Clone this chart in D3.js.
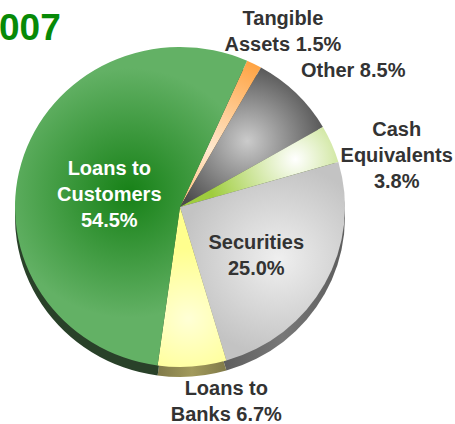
<!DOCTYPE html>
<html>
<head>
<meta charset="utf-8">
<script src="https://cdn.jsdelivr.net/npm/d3@7"></script>
<style>
  html, body { margin: 0; padding: 0; background: #ffffff; }
  svg { display: block; }
  text { font-family: "Liberation Sans", Arial, sans-serif; font-weight: bold; }
</style>
</head>
<body>
<svg id="chart" width="455" height="424"></svg>
<script>
// Asset mix, share of total (%), in drawing order clockwise
const categories = ["Tangible Assets", "Other", "Cash Equivalents", "Securities", "Loans to Banks", "Loans to Customers"];
const shares = [1.5, 8.5, 3.8, 25.0, 6.7, 54.5];
// How each category name is broken into lines
const nameLines = [["Tangible", "Assets"], ["Other"], ["Cash", "Equivalents"], ["Securities"], ["Loans to", "Banks"], ["Loans to", "Customers"]];
const valueOwnLine = [false, false, true, true, false, true];
const titleText = "007";

// Slice shading: edge colour, focus colour, side colour
const edgeColors   = ["#ff982c", "#4b4b4b", "#9fcd3e", "#c3c3c3", "#ffff8e", "#63b165"];
const centerColors = ["#ffe9cf", "#cbcbcb", "#ffffff", "#efefef", "#ffffd6", "#178117"];
const sideColors   = ["#8a5a20", "#555555", "#5f7a2a", "#6a6a6a", "#8f8851", "#2e482e"];
// Focus placement of each slice's gradient (fraction of radius) and its spread
const focusR  = [0.40, 0.58, 0.76, 0.68, 0.70, 0.32];
const spreadR = [0.70, 0.52, 0.55, 0.60, 0.44, 0.78];

// Label placement: polar radius (px) and angle nudge (deg) from the slice middle
const labelR  = [204, 221, 223, 90, 199, 72];
const labelDA = [3.6, 6.9, 9.5, 3.4, -9.2, -5];
const labelFill = ["#333333", "#333333", "#333333", "#333333", "#333333", "#ffffff"];

const W = 455, H = 424;
const cx = 180, cy = 207;
const R = 165, tilt = 160 / 165, depth = 10;
const fontSize = 20, lineH = 26;

const svg = d3.select("#chart");
const defs = svg.append("defs");

const rad = d => d * Math.PI / 180;
const pie = d3.pie().sort(null).value(d => d)
  .startAngle(rad(24)).endAngle(rad(24) + 2 * Math.PI);
const arcs = pie(shares);
const arc = d3.arc().innerRadius(0).outerRadius(R);

const mid = a => (a.startAngle + a.endAngle) / 2;

// Radial gradient per slice, centred inside the slice
arcs.forEach((a, i) => {
  const m = mid(a);
  const fx = Math.sin(m) * R * focusR[i];
  const fy = -Math.cos(m) * R * focusR[i];
  const g = defs.append("radialGradient")
    .attr("id", "grad" + i)
    .attr("gradientUnits", "userSpaceOnUse")
    .attr("cx", fx).attr("cy", fy).attr("r", R * spreadR[i]);
  g.append("stop").attr("offset", "0%").attr("stop-color", centerColors[i]);
  g.append("stop").attr("offset", "100%").attr("stop-color", edgeColors[i]);

  const s = defs.append("linearGradient")
    .attr("id", "side" + i)
    .attr("gradientUnits", "userSpaceOnUse")
    .attr("x1", Math.sin(a.endAngle) * R).attr("x2", Math.sin(a.startAngle) * R)
    .attr("y1", 0).attr("y2", 0);
  const sc = d3.color(sideColors[i]);
  s.append("stop").attr("offset", "0%").attr("stop-color", sc.darker(0.3));
  s.append("stop").attr("offset", "50%").attr("stop-color", sc.brighter(0.35));
  s.append("stop").attr("offset", "100%").attr("stop-color", sc.darker(0.3));
});

// Extruded side of the disc
const sideLayer = svg.append("g")
  .attr("transform", `translate(${cx},${cy + depth}) scale(1,${tilt})`);
sideLayer.selectAll("path").data(arcs).join("path")
  .attr("d", arc)
  .attr("fill", (d, i) => `url(#side${i})`);

// Top face
const faceLayer = svg.append("g")
  .attr("transform", `translate(${cx},${cy}) scale(1,${tilt})`);
faceLayer.selectAll("path").data(arcs).join("path")
  .attr("d", arc)
  .attr("fill", (d, i) => `url(#grad${i})`);

// Labels
const fmt = d3.format(".1f");
arcs.forEach((a, i) => {
  const lines = nameLines[i].slice();
  const val = fmt(shares[i]) + "%";
  if (valueOwnLine[i]) lines.push(val);
  else lines[lines.length - 1] += " " + val;
  const ang = mid(a) + rad(labelDA[i]);
  const lx = cx + Math.sin(ang) * labelR[i];
  const ly = cy - Math.cos(ang) * labelR[i];
  const t = svg.append("text")
    .attr("text-anchor", "middle")
    .attr("font-size", fontSize)
    .attr("fill", labelFill[i]);
  lines.forEach((ln, k) => {
    t.append("tspan")
      .attr("x", lx)
      .attr("y", ly - (lines.length - 1) * lineH / 2 + k * lineH + fontSize * 0.36)
      .text(ln);
  });
});

// Year heading at the top-left corner
svg.append("text")
  .attr("x", -1)
  .attr("y", 40)
  .attr("font-size", 37)
  .attr("fill", "#078a07")
  .text(titleText);
</script>
</body>
</html>
